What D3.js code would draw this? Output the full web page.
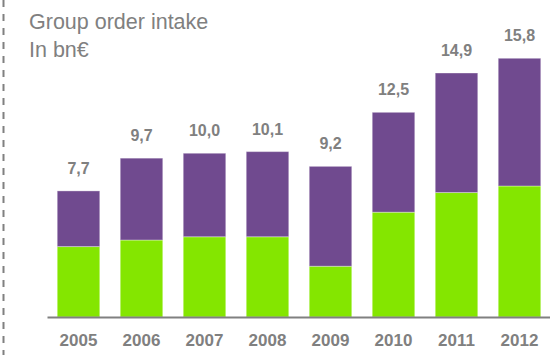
<!DOCTYPE html>
<html>
<head>
<meta charset="utf-8">
<script src="https://cdn.jsdelivr.net/npm/d3@7"></script>
<style>
  html, body { margin: 0; padding: 0; background: #fff; }
  svg { display: block; font-family: "Liberation Sans", Arial, sans-serif; }
</style>
</head>
<body>
<svg id="chart" width="550" height="355"></svg>
<script>
// Group order intake per year, in bn€ (two stacked components)
const years = ["2005", "2006", "2007", "2008", "2009", "2010", "2011", "2012"];
const lowerPart = [4.3, 4.7, 4.9, 4.9, 3.1, 6.4, 7.6, 8.0];
const upperPart = [3.4, 5.0, 5.1, 5.2, 6.1, 6.1, 7.3, 7.8];
const titleLines = ["Group order intake", "In bn€"];

const GREEN = "#84e600";
const PURPLE = "#704a8f";
const GREY = "#808080";

const svg = d3.select("#chart");
const W = 550, H = 355;

const x = d3.scaleBand()
  .domain(years)
  .range([47, 551])
  .paddingInner(0.325)
  .paddingOuter(0.1625);

const y = d3.scaleLinear()
  .domain([0, 16])
  .range([317, 55]);

const rows = years.map((yr, i) => ({ year: yr, lower: lowerPart[i], upper: upperPart[i] }));
const stack = d3.stack().keys(["lower", "upper"]);
const layers = stack(rows);
const colors = { lower: GREEN, upper: PURPLE };

// dashed frame edge on the left
svg.append("line")
  .attr("x1", 3.5).attr("x2", 3.5)
  .attr("y1", 0).attr("y2", H)
  .attr("stroke", GREY)
  .attr("stroke-width", 2)
  .attr("stroke-dasharray", "7,7");

// title
svg.append("g")
  .selectAll("text")
  .data(titleLines)
  .join("text")
  .attr("x", 29)
  .attr("y", (d, i) => 29 + i * 28)
  .attr("fill", GREY)
  .attr("font-size", 21.5)
  .text(d => d);

// stacked bars
svg.append("g")
  .selectAll("g")
  .data(layers)
  .join("g")
  .attr("fill", d => colors[d.key])
  .selectAll("rect")
  .data(d => d)
  .join("rect")
  .attr("x", d => x(d.data.year))
  .attr("width", x.bandwidth())
  .attr("y", d => y(d[1]))
  .attr("height", d => y(d[0]) - y(d[1]))
  .attr("stroke", "rgba(255,255,255,0.35)")
  .attr("stroke-width", 1);

// total labels above bars
const fmt = v => d3.format(".1f")(v).replace(".", ",");
svg.append("g")
  .selectAll("text")
  .data(rows)
  .join("text")
  .attr("x", d => x(d.year) + x.bandwidth() / 2)
  .attr("y", d => y(d.lower + d.upper) - 17)
  .attr("text-anchor", "middle")
  .attr("fill", GREY)
  .attr("font-size", 16)
  .attr("font-weight", "bold")
  .text(d => fmt(d.lower + d.upper));

// baseline with year labels
const xAxis = d3.axisBottom(x).tickSize(0).tickPadding(0);
const axisG = svg.append("g")
  .attr("transform", `translate(0,${y(0)})`)
  .call(xAxis);
axisG.select(".domain")
  .attr("stroke", GREY)
  .attr("stroke-width", 2.2);
axisG.selectAll(".tick text")
  .attr("dy", null)
  .attr("y", 29)
  .attr("fill", GREY)
  .attr("font-size", 17)
  .attr("font-weight", "bold")
  .attr("font-family", "'Liberation Sans', Arial, sans-serif");
</script>
</body>
</html>
